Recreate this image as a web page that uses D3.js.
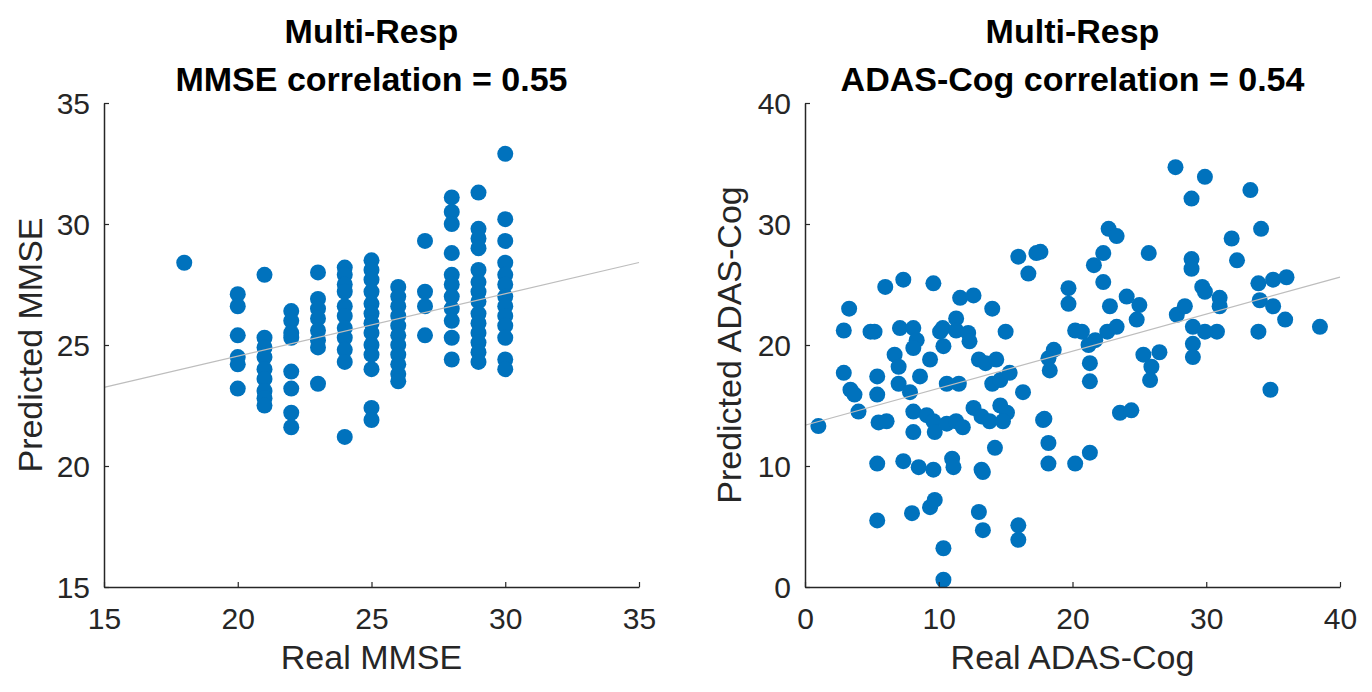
<!DOCTYPE html>
<html>
<head>
<meta charset="utf-8">
<script src="https://cdn.jsdelivr.net/npm/d3@7"></script>
<style>
  body { margin: 0; background: #fff; }
  svg { display: block; }
  text { font-family: 'Liberation Sans', Arial, sans-serif; }
</style>
</head>
<body>
<div id="chart"></div>
<script>
// ---- data ----
const realMMSE = [
  18,
  20, 20, 20, 20, 20, 20,
  21, 21, 21, 21, 21, 21, 21, 21, 21,
  22, 22, 22, 22, 22, 22, 22, 22,
  23, 23, 23, 23, 23, 23, 23, 23,
  24, 24, 24, 24, 24, 24, 24, 24, 24, 24, 24,
  25, 25, 25, 25, 25, 25, 25, 25, 25, 25, 25, 25, 25,
  26, 26, 26, 26, 26, 26, 26, 26, 26, 26, 26,
  27, 27, 27, 27,
  28, 28, 28, 28, 28, 28, 28, 28, 28, 28, 28,
  29, 29, 29, 29, 29, 29, 29, 29, 29, 29, 29, 29, 29, 29,
  30, 30, 30, 30, 30, 30, 30, 30, 30, 30, 30, 30, 30
];
const predMMSE = [
  28.4,
  27.1, 26.6, 25.4, 24.5, 24.2, 23.2,
  27.9, 25.3, 24.9, 24.5, 24.0, 23.6, 23.1, 22.8, 22.5,
  26.4, 26.0, 25.5, 25.3, 23.9, 23.2, 22.2, 21.6,
  28.0, 26.9, 26.5, 26.1, 25.6, 25.2, 24.9, 23.4,
  28.2, 27.9, 27.5, 27.2, 26.6, 26.2, 25.7, 25.3, 24.8, 24.3, 21.2,
  28.5, 28.1, 27.7, 27.2, 26.7, 26.3, 25.9, 25.5, 25.0, 24.6, 24.0, 22.4, 21.9,
  27.4, 27.0, 26.6, 26.2, 25.8, 25.4, 25.0, 24.6, 24.2, 23.8, 23.5,
  29.3, 27.2, 26.6, 25.4,
  31.1, 30.5, 30.0, 28.8, 27.9, 27.5, 27.0, 26.5, 26.0, 25.3, 24.4,
  31.3, 29.8, 29.4, 29.0, 28.1, 27.6, 27.2, 26.8, 26.3, 25.9, 25.5, 25.1, 24.7, 24.3,
  32.9, 30.2, 29.3, 28.4, 27.9, 27.5, 27.0, 26.6, 26.2, 25.8, 25.3, 24.4, 24.0
];

const realADAS = [
  1.0, 3.3, 2.9, 4.9, 5.2, 6.0, 7.35, 9.6,
  7.1, 8.1, 8.35, 8.1, 6.7, 7.0,
  2.9, 3.4, 3.7, 4.0, 5.4, 5.4, 5.5, 6.1,
  7.0, 7.85, 8.6, 9.35, 10.1, 10.3, 11.3, 11.3,
  12.2, 12.3, 11.6, 12.6, 10.35, 10.6, 11.5,
  13.0, 13.5, 14.3, 14.0, 15.0, 14.0, 14.6, 15.3, 16.3,
  8.1, 9.1, 9.6, 8.1, 9.7, 10.6, 11.3, 11.8,
  12.6, 13.2, 13.8, 14.6, 15.1, 14.8, 14.2,
  5.4, 7.35, 8.5, 9.6, 11.0, 11.1, 13.2,
  15.95, 17.3, 16.7,
  17.8, 18.2, 18.2, 13.3,
  5.4, 8.0, 9.35, 9.7, 13.0, 13.3, 15.95, 15.95, 10.35, 10.35,
  27.7, 29.9, 28.9, 33.3, 34.1, 31.9, 32.3, 22.7, 23.3, 25.7,
  17.6, 22.3, 21.6, 22.3, 19.7, 19.7, 28.9, 28.9, 29.7, 29.9,
  31.0, 31.0, 33.9, 35.0, 36.0, 34.0, 35.0, 35.9, 33.9, 38.5,
  34.8, 22.8, 24.05, 25.0, 24.8, 27.8, 28.4, 29.0, 30.8, 29.9,
  29.0, 29.0, 20.2, 20.7, 21.7, 22.6, 23.3, 21.2, 18.6, 18.2,
  18.3, 21.3, 21.3, 25.3, 26.5, 25.9, 25.8, 17.9, 21.3, 23.55,
  24.4, 20.2
];
const predADAS = [
  13.3, 23.0, 21.2, 21.1, 21.1, 24.8, 25.4, 25.1,
  21.4, 21.4, 20.4, 19.75, 19.2, 18.2,
  17.7, 16.3, 15.9, 14.5, 17.4, 15.9, 13.6, 13.7,
  16.8, 16.1, 17.4, 18.8, 21.1, 21.4, 22.2, 21.2,
  21.0, 20.3, 23.9, 24.1, 19.9, 16.8, 16.8,
  18.8, 18.5, 18.8, 23.0, 21.1, 16.8, 17.1, 17.7, 16.1,
  14.5, 14.2, 13.7, 12.8, 12.8, 13.5, 13.7, 13.2,
  14.8, 14.1, 13.7, 15.0, 14.4, 13.7, 11.5,
  10.2, 10.4, 9.9, 9.7, 10.6, 9.9, 9.7,
  27.3, 27.6, 25.9,
  13.8, 11.9, 10.2, 9.5,
  5.5, 6.1, 6.6, 7.2, 6.2, 4.7, 5.1, 3.9, 3.2, 0.6,
  34.7, 33.9, 32.1, 32.8, 29.6, 28.8, 27.0, 29.6, 29.0, 27.6,
  27.7, 27.6, 26.6, 25.2, 24.7, 23.4, 27.1, 26.3, 24.8, 24.4,
  23.9, 23.2, 25.1, 25.4, 25.6, 23.7, 23.2, 22.1, 21.1, 21.5,
  16.3, 23.2, 24.0, 23.3, 22.1, 22.5, 23.2, 21.5, 21.1, 21.1,
  20.1, 19.0, 21.2, 21.1, 20.4, 21.1, 21.5, 20.0, 19.6, 18.9,
  17.9, 18.5, 17.0, 19.2, 19.4, 18.2, 17.1, 13.9, 11.1, 14.4,
  14.6, 10.2
];

// least-squares line [slope, intercept] as drawn in the figure
const fitMMSE = [0.258, 19.38];
const fitADAS = [0.306, 13.37];

const ticksMMSE = [15, 20, 25, 30, 35];
const ticksADAS = [0, 10, 20, 30, 40];

const titlesMMSE = ['Multi-Resp', 'MMSE correlation = 0.55'];
const titlesADAS = ['Multi-Resp', 'ADAS-Cog correlation = 0.54'];

// ---- drawing ----
const width = 1372, height = 692;
const dotColor = '#0072BD';
const axisColor = '#262626';

const svg = d3.select('#chart').append('svg')
  .attr('width', width)
  .attr('height', height);

function drawPanel(opt) {
  const x = d3.scaleLinear().domain(opt.domain).range([opt.left, opt.right]);
  const y = d3.scaleLinear().domain(opt.domain).range([opt.bottom, opt.top]);
  const g = svg.append('g');

  // titles
  g.append('g')
    .attr('font-weight', 'bold')
    .attr('font-size', 34)
    .attr('text-anchor', 'middle')
    .attr('fill', '#000')
  .selectAll('text')
  .data(opt.titles)
  .join('text')
    .attr('x', (opt.left + opt.right) / 2)
    .attr('y', (d, i) => 43 + i * 48)
    .text(d => d);

  // points
  g.append('g')
    .attr('fill', dotColor)
  .selectAll('circle')
  .data(opt.xs.map((v, i) => [v, opt.ys[i]]))
  .join('circle')
    .attr('cx', d => x(d[0]))
    .attr('cy', d => y(d[1]))
    .attr('r', 8);

  // fitted line over the x limits
  g.append('line')
    .attr('x1', x(opt.domain[0]))
    .attr('y1', y(opt.fit[0] * opt.domain[0] + opt.fit[1]))
    .attr('x2', x(opt.domain[1]))
    .attr('y2', y(opt.fit[0] * opt.domain[1] + opt.fit[1]))
    .attr('stroke', '#bdbdbd')
    .attr('stroke-width', 1.2);

  // axes, ticks pointing inward like MATLAB
  const xAxis = g.append('g')
    .attr('transform', `translate(0,${opt.bottom})`)
    .call(d3.axisBottom(x).tickValues(opt.ticks).tickSize(-5).tickSizeOuter(0).tickPadding(16));
  const yAxis = g.append('g')
    .attr('transform', `translate(${opt.left},0)`)
    .call(d3.axisLeft(y).tickValues(opt.ticks).tickSize(-5).tickSizeOuter(0).tickPadding(14));

  [xAxis, yAxis].forEach(a => {
    a.select('.domain').attr('stroke', axisColor).attr('stroke-width', 1.5);
    a.selectAll('.tick line').attr('stroke', axisColor).attr('stroke-width', 1.2);
    a.selectAll('.tick text')
      .attr('fill', axisColor)
      .attr('font-size', 30)
      .attr('font-family', "'Liberation Sans', Arial, sans-serif");
  });
  xAxis.selectAll('.tick text').attr('dy', '0.88em');
  yAxis.selectAll('.tick text').attr('dy', '0.36em');

  // axis labels
  g.append('text')
    .attr('x', (opt.left + opt.right) / 2)
    .attr('y', 669)
    .attr('text-anchor', 'middle')
    .attr('font-size', 34)
    .attr('fill', axisColor)
    .text(opt.xLabel);

  g.append('text')
    .attr('transform', `translate(${opt.yLabelX},${(opt.top + opt.bottom) / 2}) rotate(-90)`)
    .attr('text-anchor', 'middle')
    .attr('font-size', 34)
    .attr('fill', axisColor)
    .text(opt.yLabel);
}

drawPanel({
  xs: realMMSE, ys: predMMSE, fit: fitMMSE,
  domain: [15, 35], ticks: ticksMMSE, titles: titlesMMSE,
  xLabel: 'Real MMSE', yLabel: 'Predicted MMSE',
  left: 104, right: 639, top: 103, bottom: 587, yLabelX: 42
});

drawPanel({
  xs: realADAS, ys: predADAS, fit: fitADAS,
  domain: [0, 40], ticks: ticksADAS, titles: titlesADAS,
  xLabel: 'Real ADAS-Cog', yLabel: 'Predicted ADAS-Cog',
  left: 805, right: 1340, top: 103, bottom: 587, yLabelX: 741
});
</script>
</body>
</html>
